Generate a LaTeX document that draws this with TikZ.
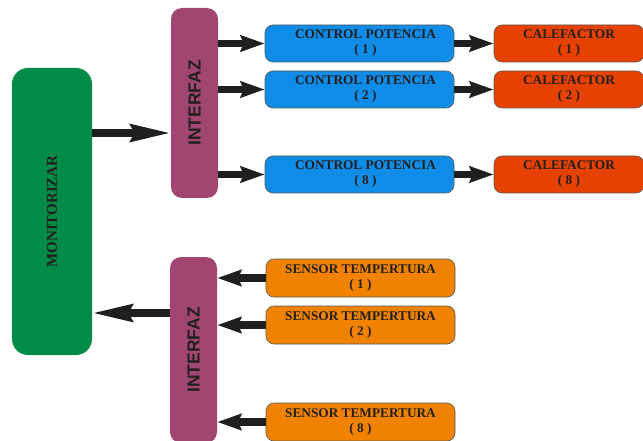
\documentclass[tikz,border=0pt]{standalone}
\usepackage{fontspec}
\setmainfont{Liberation Serif}
\newfontfamily\ifzfont{Liberation Sans}
\usetikzlibrary{arrows.meta}
\definecolor{monigreen}{RGB}{0,140,72}
\definecolor{ifzpurple}{RGB}{160,70,112}
\definecolor{ctrlblue}{RGB}{14,140,232}
\definecolor{calefred}{RGB}{230,65,0}
\definecolor{sensorange}{RGB}{240,130,0}
\definecolor{labeltext}{RGB}{35,31,32}
\tikzset{
  blkbox/.style={rectangle, rounded corners=8pt, draw=black!65, line width=0.6pt,
                 minimum width=189pt, minimum height=37pt, inner sep=0pt,
                 align=center, text=labeltext, font=\fontsize{13.3}{15}\selectfont\bfseries},
  ctrlbox/.style={blkbox, fill=ctrlblue},
  calefbox/.style={blkbox, fill=calefred, minimum width=150pt},
  sensbox/.style={blkbox, fill=sensorange, minimum height=38pt},
  ifzbox/.style={rectangle, rounded corners=11pt, fill=ifzpurple, minimum width=47pt,
                 inner sep=0pt, text=labeltext, font=\ifzfont\fontsize{17.5}{18}\selectfont\bfseries},
  monibox/.style={rectangle, rounded corners=16pt, fill=monigreen, minimum width=80pt,
                  minimum height=287pt, inner sep=0pt, text=labeltext,
                  font=\fontsize{15}{16}\selectfont\bfseries},
  fatlink/.style={draw=black!88, line width=7.5pt, -{Stealth[length=24pt, width=16pt, inset=3pt]}},
  biglink/.style={fatlink, -{Stealth[length=40pt, width=17pt, inset=4pt]}}
}

\begin{document}
\begin{tikzpicture}[x=1pt, y=-1pt]
  \clip (0,0) rectangle (643,441);
  \node[monibox] (monitor) at (52,211.5) {\rotatebox{90}{MONITORIZAR}};
  \node[ifzbox, minimum height=190pt] (ifzout) at (194.5,103) {\rotatebox{90}{INTERFAZ}};
  \node[ifzbox, minimum height=186pt] (ifzin) at (193.5,350) {\rotatebox{90}{INTERFAZ}};
  \foreach \i/\y in {1/43.5, 2/89.5, 8/174.5} {
    \node[ctrlbox] (ctrl\i) at (359.5,\y) {\hspace*{12pt}CONTROL POTENCIA\\\hspace*{12pt}( \i\ )};
    \node[calefbox] (calef\i) at (569,\y) {CALEFACTOR\\( \i\ )};
    \draw[fatlink] (ifzout.east |- ctrl\i) -- (ctrl\i.west);
    \draw[fatlink] (ctrl\i.east) -- (calef\i.west);
  }
  \foreach \i/\y in {1/278, 2/325, 8/422} {
    \node[sensbox] (sens\i) at (360.5,\y) {SENSOR TEMPERTURA\\( \i\ )};
    \draw[fatlink] (sens\i.west) -- (sens\i.west -| ifzin.east);
  }
  \draw[biglink] ([yshift=78.5pt]monitor.east) -- ([yshift=78.5pt]monitor.east -| ifzout.west);
  \draw[biglink] ([yshift=37pt]ifzin.west) -- ([yshift=37pt]ifzin.west -| monitor.east);
\end{tikzpicture}
\end{document}
